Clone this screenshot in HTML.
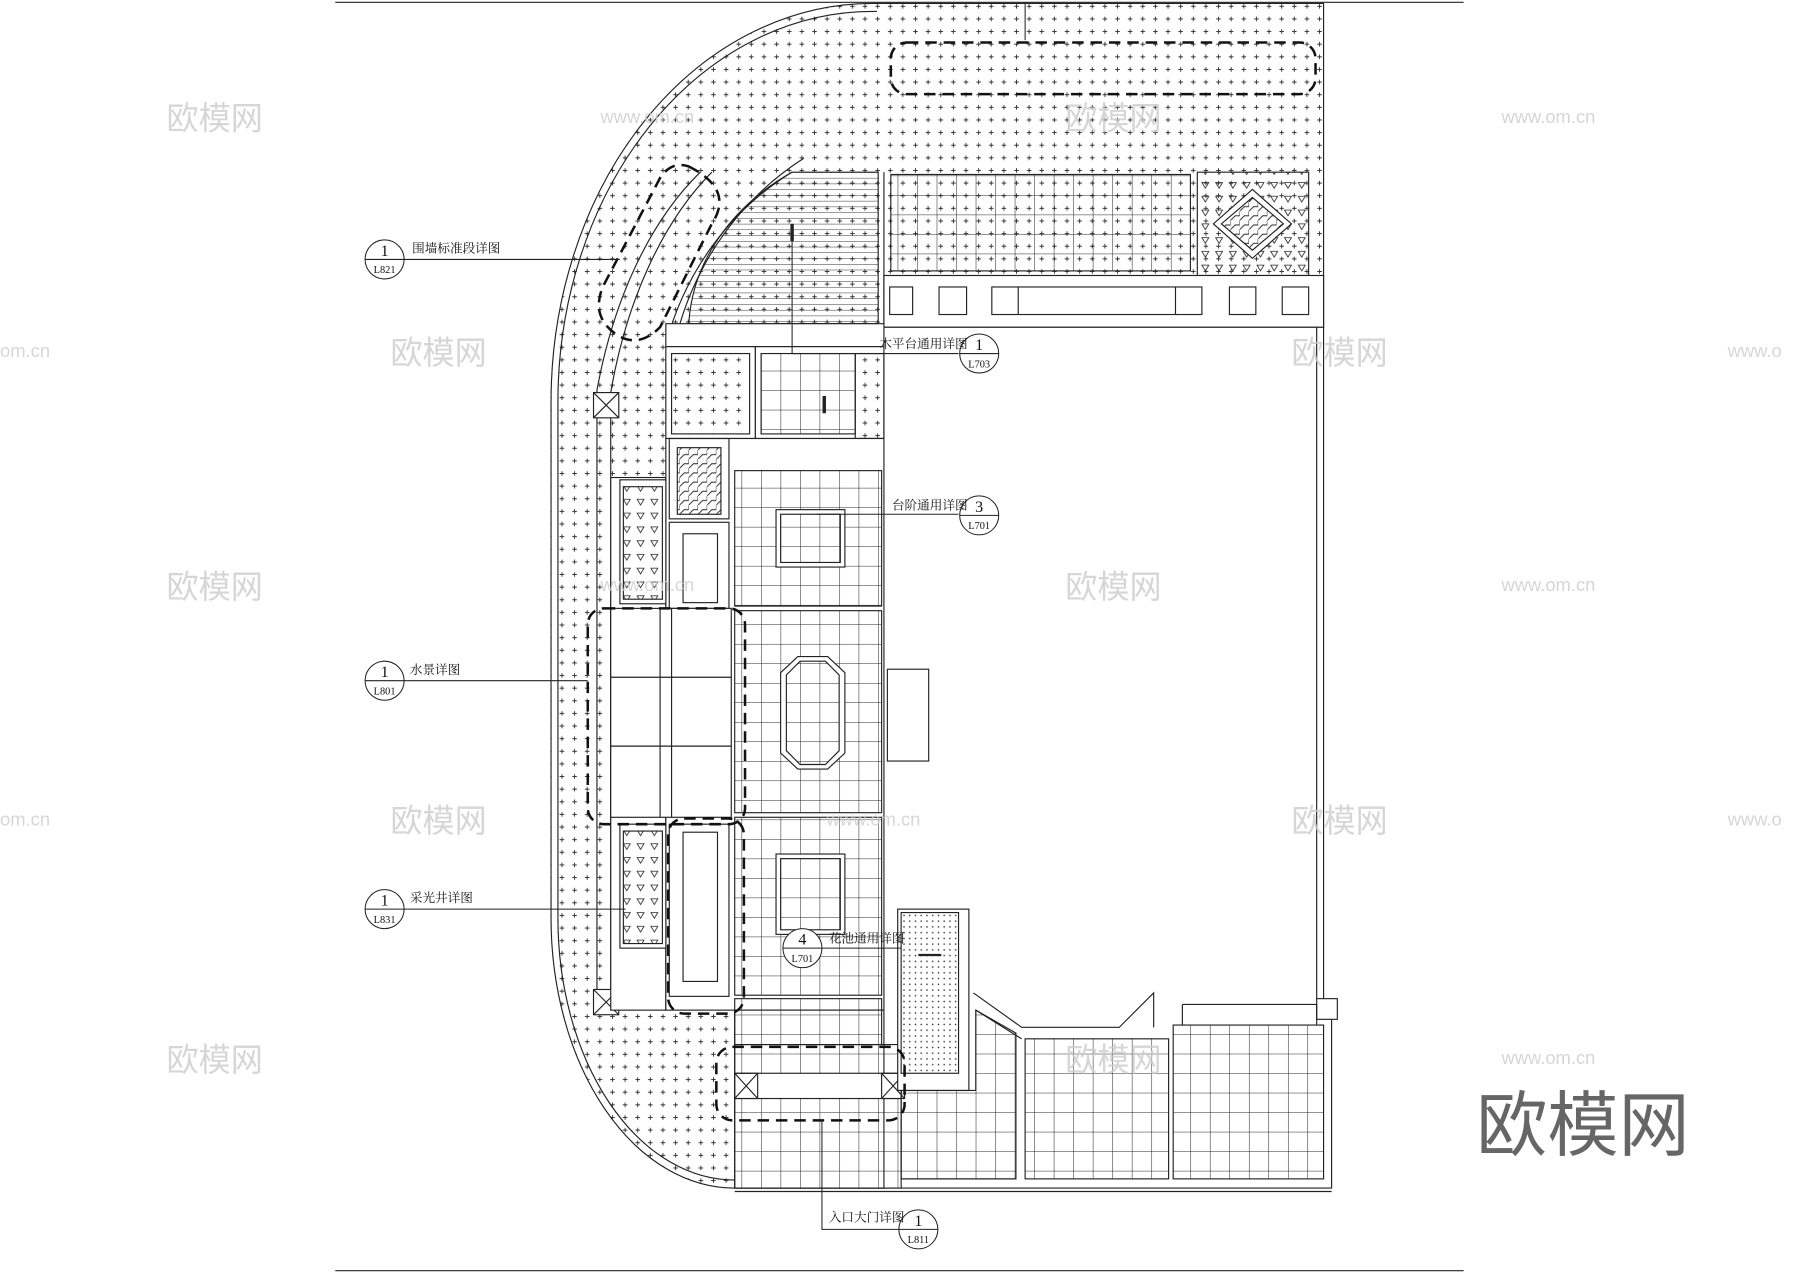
<!DOCTYPE html>
<html><head><meta charset="utf-8"><style>html,body{margin:0;padding:0;background:#fff}svg{display:block}</style></head>
<body>
<svg width="1800" height="1273" viewBox="0 0 1568 1109" xmlns="http://www.w3.org/2000/svg" font-family="'Liberation Serif','Noto Serif CJK SC',serif">
<defs>
<pattern id="dot" width="11" height="11" patternUnits="userSpaceOnUse"><path d="M3.5 5.5h4M5.5 3.5v4" stroke="#333" stroke-width="0.8"/></pattern>
<pattern id="fine" width="5" height="5" patternUnits="userSpaceOnUse"><circle cx="2.5" cy="2.5" r="0.7" fill="#333"/></pattern>
<pattern id="grid" width="17" height="17" patternUnits="userSpaceOnUse"><path d="M0 0H17M0 0V17" stroke="#222" stroke-width="0.9" fill="none"/></pattern>
<pattern id="hl" width="10" height="5" patternUnits="userSpaceOnUse"><path d="M0 0H10" stroke="#222" stroke-width="0.8"/></pattern>
<pattern id="tri" width="12" height="12" patternUnits="userSpaceOnUse"><path d="M3 3h6l-3 5z" fill="none" stroke="#222" stroke-width="0.7"/></pattern>
<pattern id="zig" width="8" height="8" patternUnits="userSpaceOnUse"><path d="M0 8L4 4H8L8 0" fill="none" stroke="#222" stroke-width="0.8"/></pattern>
</defs>
<g stroke="#222" stroke-width="1" fill="none">
<line x1="292" y1="2" x2="1275" y2="2"/><line x1="292" y1="1107" x2="1275" y2="1107"/>
<path d="M760 3 H1153 V285 H770 V1035 H640 A160 235 0 0 1 480 800 V350 A280 347 0 0 1 760 3 Z" fill="url(#dot)"/>
<path d="M764 10 A274 340 0 0 0 486 350 V800 A154 228 0 0 0 640 1028"/>
<path d="M690 150 A240 250 0 0 0 580 300"/>
<path d="M700 138 A250 260 0 0 0 590 290"/>
<path d="M610 150 A200 330 0 0 0 520 340"/><path d="M620 150 A200 330 0 0 0 532 342"/>
<path d="M520 340 V880 M532 342 V880"/>
<rect x="517" y="342" width="22" height="22" fill="#fff"/><path d="M517 342l22 22M539 342l-22 22"/>
<rect x="517" y="862" width="22" height="22" fill="#fff"/><path d="M517 862l22 22M539 862l-22 22"/>
<rect x="532" y="416" width="48" height="464" fill="#fff"/>
<rect x="776" y="152" width="261" height="84" fill="url(#grid)"/>
<rect x="1043" y="150" width="97" height="90" fill="url(#tri)"/>
<path d="M1091 165 L1125 195 L1091 225 L1057 195Z" fill="#fff"/><path d="M1091 172 L1118 195 L1091 218 L1064 195Z" fill="url(#zig)"/>
<rect x="770" y="240" width="383" height="45" fill="#fff"/>
<rect x="775" y="250" width="20" height="24"/><rect x="818" y="250" width="24" height="24"/><rect x="864" y="250" width="183" height="24"/><path d="M887 250v24M1024 250v24"/><rect x="1071" y="250" width="23" height="24"/><rect x="1117" y="250" width="23" height="24"/>
<path d="M770 150 V285 M1153 285 V870 M1147 285 V870"/>
<rect x="1147" y="870" width="18" height="18"/>
<path d="M690 150 H765 V282 H600 A210 170 0 0 1 690 150Z" fill="url(#hl)"/>
<line x1="690" y1="195" x2="690" y2="210" stroke-width="3"/>
<rect x="580" y="282" width="190" height="20" fill="#fff"/>
<rect x="580" y="302" width="78" height="80" fill="#fff"/><rect x="585" y="308" width="68" height="70" fill="url(#dot)"/>
<rect x="658" y="302" width="112" height="80" fill="#fff"/><rect x="663" y="308" width="82" height="70" fill="url(#grid)"/><rect x="745" y="308" width="25" height="74" fill="url(#dot)"/>
<line x1="718" y1="345" x2="718" y2="360" stroke-width="3"/>
<rect x="580" y="382" width="190" height="498" fill="#fff"/>
<rect x="640" y="880" width="130" height="155" fill="#fff"/>
<rect x="583" y="382" width="52" height="70"/><rect x="590" y="390" width="38" height="58" fill="url(#zig)"/>
<rect x="583" y="455" width="52" height="75"/><rect x="595" y="465" width="30" height="60"/>
<rect x="640" y="410" width="128" height="118" fill="url(#grid)"/><rect x="676" y="444" width="60" height="50" fill="#fff"/><rect x="680" y="448" width="52" height="42" fill="url(#grid)"/>
<rect x="640" y="532" width="128" height="176" fill="url(#grid)"/><path d="M695 572h26l15 14v70l-15 14h-26l-15-14v-70z" fill="#fff"/><path d="M697 576h22l12 12v66l-12 12h-22l-12-12v-66z" fill="url(#grid)"/>
<rect x="640" y="712" width="128" height="155" fill="url(#grid)"/><rect x="676" y="744" width="60" height="70" fill="#fff"/><rect x="680" y="748" width="52" height="62" fill="url(#grid)"/>
<rect x="640" y="870" width="128" height="40" fill="url(#grid)"/>
<rect x="540" y="418" width="40" height="108" fill="#fff"/><rect x="543" y="424" width="34" height="98" fill="url(#tri)"/>
<rect x="540" y="718" width="40" height="108" fill="#fff"/><rect x="543" y="724" width="34" height="98" fill="url(#tri)"/>
<rect x="532" y="530" width="105" height="182" fill="#fff"/><path d="M532 590h105M532 650h105M575 530v182M585 530v182"/>
<rect x="583" y="718" width="52" height="150" fill="#fff"/><rect x="595" y="725" width="30" height="130"/>
<rect x="773" y="583" width="36" height="80"/>
<path d="M640 910 H785 V1035 H640Z" fill="url(#grid)"/>
<rect x="640" y="935" width="145" height="22" fill="#fff"/>
<rect x="640" y="935" width="20" height="22"/><path d="M640 935l20 22M660 935l-20 22"/>
<rect x="768" y="935" width="20" height="22"/><path d="M768 935l20 22M788 935l-20 22"/>
<rect x="782" y="792" width="62" height="158" fill="#fff"/><rect x="785" y="795" width="50" height="140" fill="url(#fine)"/>
<line x1="800" y1="832" x2="820" y2="832" stroke-width="2"/>
<path d="M785 950 H850 V880 L885 900 V1027 H785Z" fill="url(#grid)"/>
<path d="M848 865 L890 895 H975 L1005 865 V895 M850 880 L890 905"/>
<rect x="893" y="905" width="125" height="122" fill="url(#grid)"/>
<rect x="1022" y="893" width="131" height="134" fill="url(#grid)"/>
<path d="M1030 875 H1147 V893 M1030 875 V893"/>
<path d="M640 1035 H1160 V888 M640 1038 H1160"/>
</g>
<g stroke="#111" stroke-width="2.2" fill="none" stroke-dasharray="10,6">
<rect x="776" y="37" width="370" height="45" rx="14"/>
<rect x="512" y="530" width="137" height="188" rx="14"/>
<rect x="582" y="713" width="66" height="170" rx="14"/>
<rect x="624" y="912" width="164" height="64" rx="14"/>
<path d="M600 145 Q640 165 620 195 L575 285 Q555 305 535 290 Q515 275 525 250 L575 155 Q585 140 600 145Z"/>
</g>
<g stroke="#222" stroke-width="0.9" fill="none">
<line x1="893" y1="2" x2="893" y2="35"/>
<path d="M352 226 H540"/><path d="M690 210 V308 H835"/><path d="M712 448 H835"/>
<path d="M352 593 H512"/><path d="M352 792 H545"/><path d="M716 826 H785"/>
<path d="M716 976 V1071 H783"/>
<circle cx="335" cy="226" r="17" fill="#fff"/><line x1="318" y1="226" x2="352" y2="226"/>
<circle cx="853" cy="308" r="17" fill="#fff"/><line x1="836" y1="308" x2="870" y2="308"/>
<circle cx="853" cy="449" r="17" fill="#fff"/><line x1="836" y1="449" x2="870" y2="449"/>
<circle cx="335" cy="593" r="17" fill="#fff"/><line x1="318" y1="593" x2="352" y2="593"/>
<circle cx="335" cy="792" r="17" fill="#fff"/><line x1="318" y1="792" x2="352" y2="792"/>
<circle cx="699" cy="826" r="17" fill="#fff"/><line x1="682" y1="826" x2="716" y2="826"/>
<circle cx="800" cy="1071" r="17" fill="#fff"/><line x1="783" y1="1071" x2="817" y2="1071"/>
</g>
<g fill="#111" font-size="14" text-anchor="middle">
<text x="335" y="223">1</text><text x="335" y="238" font-size="9">L821</text>
<text x="853" y="305">1</text><text x="853" y="320" font-size="9">L703</text>
<text x="853" y="446">3</text><text x="853" y="461" font-size="9">L701</text>
<text x="335" y="590">1</text><text x="335" y="605" font-size="9">L801</text>
<text x="335" y="789">1</text><text x="335" y="804" font-size="9">L831</text>
<text x="699" y="823">4</text><text x="699" y="838" font-size="9">L701</text>
<text x="800" y="1068">1</text><text x="800" y="1083" font-size="9">L811</text>
</g>
<g fill="#111" font-size="11">
<text x="359" y="220">围墙标准段详图</text>
<text x="766" y="303">木平台通用详图</text>
<text x="777" y="444">台阶通用详图</text>
<text x="357" y="587">水景详图</text>
<text x="357" y="786">采光井详图</text>
<text x="722" y="821">花池通用详图</text>
<text x="722" y="1064">入口大门详图</text>
</g>
<g fill="#ccc" font-family="'Liberation Sans','Noto Sans CJK SC',sans-serif" opacity="0.8">
<text x="145" y="113" font-size="28">欧模网</text><text x="340" y="317" font-size="28">欧模网</text><text x="145" y="521" font-size="28">欧模网</text><text x="340" y="725" font-size="28">欧模网</text><text x="145" y="933" font-size="28">欧模网</text>
<text x="928" y="113" font-size="28">欧模网</text><text x="1125" y="317" font-size="28">欧模网</text><text x="928" y="521" font-size="28">欧模网</text><text x="1125" y="725" font-size="28">欧模网</text><text x="928" y="933" font-size="28">欧模网</text>
<text x="523" y="107" font-size="16">www.om.cn</text><text x="1308" y="107" font-size="16">www.om.cn</text><text x="0" y="311" font-size="16">om.cn</text><text x="1505" y="311" font-size="16">www.o</text>
<text x="523" y="515" font-size="16">www.om.cn</text><text x="1308" y="515" font-size="16">www.om.cn</text><text x="0" y="719" font-size="16">om.cn</text><text x="720" y="719" font-size="16">www.om.cn</text><text x="1505" y="719" font-size="16">www.o</text><text x="1308" y="927" font-size="16">www.om.cn</text>
</g>
<text x="1286" y="1002" font-size="62" fill="#666" font-family="'Liberation Sans','Noto Sans CJK SC',sans-serif">欧模网</text>
</svg>
</body></html>
